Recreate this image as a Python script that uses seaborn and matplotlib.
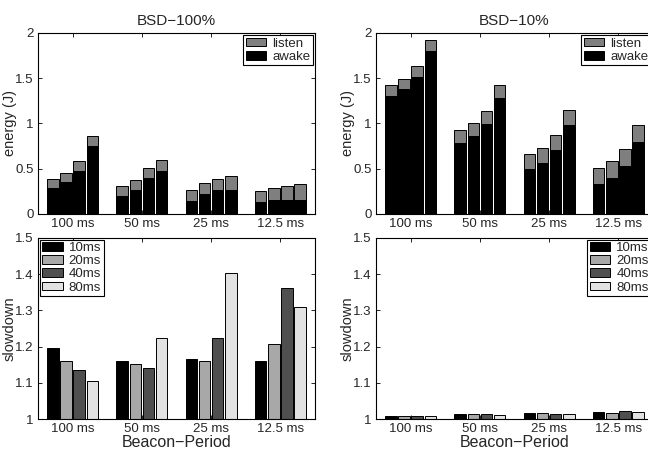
import numpy as np
import pandas as pd
import matplotlib
matplotlib.use("Agg")
import matplotlib.pyplot as plt
import seaborn as sns
from matplotlib.patches import Patch

periods = ["100 ms", "50 ms", "25 ms", "12.5 ms"]
intervals = ["10ms", "20ms", "40ms", "80ms"]

# energy (J): rows = beacon period, columns = interval
bsd100_awake = [[0.284, 0.350, 0.480, 0.755],
                [0.195, 0.265, 0.398, 0.471],
                [0.147, 0.221, 0.260, 0.260],
                [0.130, 0.150, 0.150, 0.150]]
bsd100_total = [[0.387, 0.453, 0.586, 0.858],
                [0.313, 0.376, 0.508, 0.597],
                [0.269, 0.339, 0.390, 0.416],
                [0.250, 0.287, 0.313, 0.335]]
bsd10_awake = [[1.304, 1.378, 1.514, 1.805],
               [0.788, 0.858, 0.998, 1.285],
               [0.497, 0.567, 0.707, 0.983],
               [0.331, 0.394, 0.530, 0.796]]
bsd10_total = [[1.425, 1.495, 1.639, 1.926],
               [0.932, 1.002, 1.142, 1.425],
               [0.659, 0.729, 0.869, 1.153],
               [0.512, 0.586, 0.718, 0.987]]
# slowdown
slow100 = [[1.195, 1.159, 1.136, 1.106],
           [1.160, 1.153, 1.142, 1.225],
           [1.166, 1.161, 1.225, 1.403],
           [1.161, 1.207, 1.362, 1.310]]
slow10 = [[1.007, 1.008, 1.008, 1.009],
          [1.014, 1.014, 1.013, 1.010],
          [1.017, 1.016, 1.013, 1.013],
          [1.020, 1.017, 1.021, 1.019]]

titles = ["BSD\u2212100%", "BSD\u221210%"]
energy_ticks = [0, 0.5, 1, 1.5, 2]
energy_ticklabels = ["0", "0.5", "1", "1.5", "2"]
slow_ticks = [1, 1.1, 1.2, 1.3, 1.4, 1.5]
slow_ticklabels = ["1", "1.1", "1.2", "1.3", "1.4", "1.5"]

sns.set_theme(style="ticks")
plt.rcParams["font.family"] = ["Liberation Sans", "DejaVu Sans"]
plt.rcParams["axes.linewidth"] = 0.8
plt.rcParams["axes.edgecolor"] = "black"

LISTEN = "#7f7f7f"
AWAKE = "#000000"
SLOW_COLORS = ["#000000", "#a8a8a8", "#4f4f4f", "#e2e2e2"]


def frame(values):
    rows = []
    for i, p in enumerate(periods):
        for j, iv in enumerate(intervals):
            rows.append((p, iv, values[i][j]))
    return pd.DataFrame(rows, columns=["period", "interval", "value"])


def bars(ax, values, colors):
    sns.barplot(data=frame(values), x="period", y="value", hue="interval",
                order=periods, hue_order=intervals, palette=colors,
                width=0.76, gap=0.13, edgecolor="black", linewidth=0.7,
                saturation=1, errorbar=None, legend=False, ax=ax)


def style_axes(ax):
    ax.tick_params(direction="in", top=True, right=True, length=3,
                   width=0.6, labelsize=9.5, pad=3, color="black")
    for s in ax.spines.values():
        s.set_visible(True)
        s.set_color("black")


LEG_KW = dict(fontsize=9.5, frameon=True, fancybox=False, edgecolor="black",
              framealpha=1, borderpad=0.2, handlelength=1.55,
              handleheight=0.65, handletextpad=0.45, labelspacing=0.08)

fig = plt.figure(figsize=(6.48, 4.5), dpi=100)
W = 277 / 648
H = 181 / 450
lefts = [38 / 648, 376 / 648]
bottoms = [1 - 214 / 450, 1 - 419 / 450]
YLAB_X = -0.076

energy_sets = [(bsd100_awake, bsd100_total), (bsd10_awake, bsd10_total)]
slow_sets = [slow100, slow10]

for k in range(2):
    ax = fig.add_axes([lefts[k], bottoms[0], W, H])
    awake, total = energy_sets[k]
    bars(ax, total, [LISTEN] * 4)
    bars(ax, awake, [AWAKE] * 4)
    ax.set_xlim(-0.5, 3.5)
    ax.set_ylim(0, 2)
    ax.set_yticks(energy_ticks)
    ax.set_yticklabels(energy_ticklabels)
    ax.set_xlabel("")
    ax.set_ylabel("energy (J)", fontsize=10.5)
    ax.yaxis.set_label_coords(YLAB_X, 0.5)
    ax.set_title(titles[k], fontsize=11, pad=6)
    style_axes(ax)
    handles = [Patch(facecolor=LISTEN, edgecolor="black", linewidth=0.7),
               Patch(facecolor=AWAKE, edgecolor="black", linewidth=0.7)]
    leg = ax.legend(handles, ["listen", "awake"], loc="upper right",
                    borderaxespad=0.15, **LEG_KW)
    leg.get_frame().set_linewidth(0.8)

    ax2 = fig.add_axes([lefts[k], bottoms[1], W, H])
    bars(ax2, slow_sets[k], SLOW_COLORS)
    ax2.set_xlim(-0.5, 3.5)
    ax2.set_ylim(1, 1.5)
    ax2.set_yticks(slow_ticks)
    ax2.set_yticklabels(slow_ticklabels)
    ax2.set_xlabel("Beacon\u2212Period", fontsize=11.5, labelpad=0)
    ax2.set_ylabel("slowdown", fontsize=10.5)
    ax2.yaxis.set_label_coords(YLAB_X, 0.5)
    style_axes(ax2)
    handles = [Patch(facecolor=c, edgecolor="black", linewidth=0.7) for c in SLOW_COLORS]
    leg2 = ax2.legend(handles, intervals,
                      loc="upper left" if k == 0 else "upper right",
                      borderaxespad=0.12, **LEG_KW)
    leg2.get_frame().set_linewidth(0.8)

fig.savefig("out.png", dpi=100)
